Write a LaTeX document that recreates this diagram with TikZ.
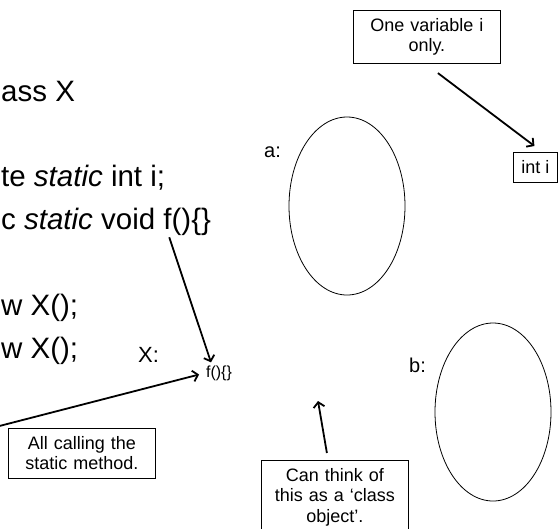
\documentclass[tikz,border=0pt]{standalone}
\usepackage{fontspec}
\setmainfont{Liberation Sans}
\usepackage{tikz}
\usetikzlibrary{shapes.geometric, arrows.meta, positioning, calc}

\begin{document}
\begin{tikzpicture}[
    x=1pt, y=-1pt,
    code/.style={font=\fontsize{29.5}{43}\selectfont, inner sep=0pt, anchor=base west},
    lbl/.style={font=\fontsize{20}{24}\selectfont, inner sep=0pt, anchor=base west},
    note/.style={draw, line width=0.8pt, text width=139pt, inner xsep=4pt, inner ysep=8pt,
                 align=center, anchor=north west, font=\fontsize{18}{20.5}\selectfont},
    obj/.style={draw, ellipse, line width=0.8pt, minimum width=116pt, minimum height=178pt},
    arrow/.style={-{Straight Barb[length=5pt, width=11pt]}, line width=1.8pt}
]

\path[use as bounding box, fill=white] (0,0) rectangle (559,528);

\node[code] (l1) at (1,101) {ass X};
\node[code] (l2) at (1,186) {te \textit{static} int i;};
\node[code] (l3) at (1,229) {c \textit{static} void f()\{\}};
\node[code] (l4) at (1,315) {w X();};
\node[code] (l5) at (1,358) {w X();};

\node[lbl, font=\fontsize{22}{26}\selectfont] (xlab) at (138,362) {X:};
\node[inner sep=1pt, font=\fontsize{16}{18}\selectfont] (fm) at (219,373) {f()\{\}};

\node[obj] (a) at (347,206) {};
\node[lbl] (alab) at (264,157) {a:};
\node[obj] (b) at (493,412) {};
\node[lbl] (blab) at (409,372) {b:};

\node[note] (onevar) at (353,10) {One variable i\\only.};
\node[draw, line width=0.8pt, anchor=north west, inner xsep=8pt, minimum height=30pt,
      font=\fontsize{18}{20.5}\selectfont] (inti) at (513,152) {int i};
\node[note] (allcall) at (8,428) {All calling the\\static method.};
\node[note] (canthink) at (261,460) {Can think of\\this as a ‘class\\object’.};

\coordinate (callsrc) at (-20,431);
\coordinate (classobj) at (318,401);

\draw[arrow] ([xshift=-42pt, yshift=-2pt]l3.south east) -- ([xshift=-8pt, yshift=2pt]fm.north);
\draw[arrow, shorten >=6pt] (callsrc) -- (fm.west);
\draw[arrow] ([xshift=11pt, yshift=-9pt]onevar.south) -- ([xshift=-1pt, yshift=6pt]inti.north);
\draw[arrow] ([xshift=-8pt, yshift=7pt]canthink.north) -- (classobj);

\end{tikzpicture}
\end{document}
